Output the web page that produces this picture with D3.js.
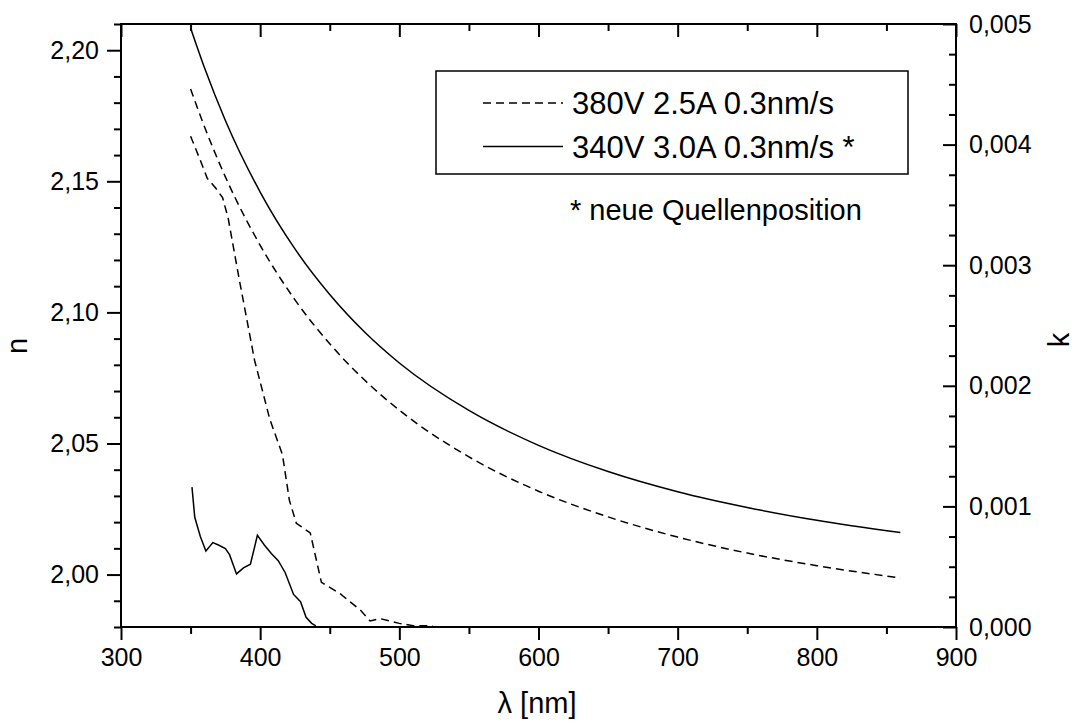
<!DOCTYPE html>
<html>
<head>
<meta charset="utf-8">
<script src="https://cdn.jsdelivr.net/npm/d3@7"></script>
<style>
  html, body { margin: 0; padding: 0; background: #fff; }
  svg { display: block; font-family: "Liberation Sans", Arial, sans-serif; }
</style>
</head>
<body>
<div id="chart"></div>
<script>
// wavelength grid of the refractive index curves (nm)
const lambdaN = [350, 360, 375, 400, 425, 450, 475, 500, 550, 600, 650, 700, 750, 800, 860]
// n, 380V 2.5A 0.3nm/s (dashed)
const nDashed = [2.1852, 2.1708, 2.1517, 2.1256, 2.1048, 2.0880, 2.0742, 2.0627, 2.0449, 2.0318, 2.0220, 2.0143, 2.0082, 2.0034, 1.9987]
// n, 340V 3.0A 0.3nm/s * (solid)
const nSolid = [2.2085, 2.1933, 2.1732, 2.1459, 2.1242, 2.1068, 2.0925, 2.0807, 2.0626, 2.0493, 2.0393, 2.0316, 2.0256, 2.0207, 2.0160]

// k, 380V 2.5A 0.3nm/s (dashed)
const lambdaKDashed = [350, 357, 362, 368, 373, 377, 385, 396, 407, 416, 421, 426, 436, 444, 457, 472, 479, 486, 500, 510, 524]
const kDashed = [0.00407, 0.00387, 0.00372, 0.00364, 0.00356, 0.00339, 0.00288, 0.00221, 0.00172, 0.00143, 0.00105, 0.00086, 0.00078, 0.00037, 0.00028, 0.00014, 0.00005, 0.00007, 0.00003, 0.00001, 0.00001]
// k, 340V 3.0A 0.3nm/s * (solid)
const lambdaKSolid = [351, 353, 357, 361, 366, 370, 375, 378, 383, 388, 393, 398, 403, 408, 413, 418, 424, 429, 433, 437, 440]
const kSolid = [0.00116, 0.00091, 0.00075, 0.00063, 0.00070, 0.00068, 0.00065, 0.00060, 0.00044, 0.00049, 0.00052, 0.00076, 0.00068, 0.00061, 0.00055, 0.00045, 0.00027, 0.00021, 0.00008, 0.00003, 0.00001]

const legendLabels = ['380V 2.5A 0.3nm/s', '340V 3.0A 0.3nm/s *']
const noteText = '* neue Quellenposition'

const width = 1074; const height = 722
const plotLeft = 121; const plotRight = 956; const plotTop = 24; const plotBottom = 627

const de = d3.formatLocale({ decimal: ',', thousands: '.', grouping: [3], currency: ['', ''] })

const x = d3.scaleLinear().domain([300, 900]).range([plotLeft, plotRight])
const yN = d3.scaleLinear().domain([1.98, 2.21]).range([plotBottom, plotTop])
const yK = d3.scaleLinear().domain([0, 0.005]).range([plotBottom, plotTop])

const svg = d3.select('#chart').append('svg')
  .attr('width', width).attr('height', height)

// helper to style axis groups
function styleAxis (g, fontSize) {
  g.select('.domain').remove()
  g.selectAll('line').attr('stroke', '#000').attr('stroke-width', 2)
  g.selectAll('text').attr('fill', '#000').style('font-size', fontSize + 'px')
    .style('font-family', '"Liberation Sans", Arial, sans-serif')
}

// bottom axis
const xMajor = d3.range(300, 901, 100)
const xMinor = d3.range(350, 900, 100)
svg.append('g').attr('transform', 'translate(0,' + plotBottom + ')')
  .call(d3.axisBottom(x).tickValues(xMajor).tickSize(13).tickPadding(8).tickFormat(d3.format('d')))
  .call(g => styleAxis(g, 25))
svg.append('g').attr('transform', 'translate(0,' + plotBottom + ')')
  .call(d3.axisBottom(x).tickValues(xMinor).tickSize(7).tickFormat(''))
  .call(g => styleAxis(g, 25))

// top axis, ticks inward
svg.append('g').attr('transform', 'translate(0,' + plotTop + ')')
  .call(d3.axisBottom(x).tickValues(xMajor).tickSize(13).tickFormat(''))
  .call(g => styleAxis(g, 25))
svg.append('g').attr('transform', 'translate(0,' + plotTop + ')')
  .call(d3.axisBottom(x).tickValues(xMinor).tickSize(7).tickFormat(''))
  .call(g => styleAxis(g, 25))

// left axis n
const nMajor = [2.00, 2.05, 2.10, 2.15, 2.20]
const nMinor = [1.98, 1.99, 2.01, 2.02, 2.03, 2.04, 2.06, 2.07, 2.08, 2.09, 2.11, 2.12, 2.13, 2.14, 2.16, 2.17, 2.18, 2.19, 2.21]
svg.append('g').attr('transform', 'translate(' + plotLeft + ',0)')
  .call(d3.axisLeft(yN).tickValues(nMajor).tickSize(14).tickPadding(8).tickFormat(de.format('.2f')))
  .call(g => styleAxis(g, 25))
svg.append('g').attr('transform', 'translate(' + plotLeft + ',0)')
  .call(d3.axisLeft(yN).tickValues(nMinor).tickSize(7).tickFormat(''))
  .call(g => styleAxis(g, 25))

// right axis k, ticks inward
const kMajor = [0, 0.001, 0.002, 0.003, 0.004, 0.005]
const kMinor = d3.range(0, 21).map(i => i * 0.00025).filter((d, i) => i % 4 !== 0)
const rightAxis = svg.append('g').attr('transform', 'translate(' + plotRight + ',0)')
  .call(d3.axisRight(yK).tickValues(kMajor).tickSize(0).tickPadding(13).tickFormat(de.format('.3f')))
  .call(g => styleAxis(g, 25))
rightAxis.selectAll('.tick').append('line').attr('x2', -13).attr('stroke', '#000').attr('stroke-width', 2)
svg.append('g').attr('transform', 'translate(' + plotRight + ',0)')
  .call(d3.axisLeft(yK).tickValues(kMinor).tickSize(7).tickFormat(''))
  .call(g => styleAxis(g, 25))

// frame
svg.append('rect')
  .attr('x', plotLeft).attr('y', plotTop)
  .attr('width', plotRight - plotLeft).attr('height', plotBottom - plotTop)
  .attr('fill', 'none').attr('stroke', '#000').attr('stroke-width', 2)

// curves
const nLine = d3.line().x(d => x(d[0])).y(d => yN(d[1])).curve(d3.curveMonotoneX)
const kLine = d3.line().x(d => x(d[0])).y(d => yK(d[1]))

const plot = svg.append('g')
plot.append('path').datum(d3.zip(lambdaN, nDashed))
  .attr('d', nLine).attr('fill', 'none').attr('stroke', '#000').attr('stroke-width', 1.5).attr('stroke-dasharray', '8,5')
plot.append('path').datum(d3.zip(lambdaN, nSolid))
  .attr('d', nLine).attr('fill', 'none').attr('stroke', '#000').attr('stroke-width', 1.5)
plot.append('path').datum(d3.zip(lambdaKDashed, kDashed))
  .attr('d', kLine).attr('fill', 'none').attr('stroke', '#000').attr('stroke-width', 1.5).attr('stroke-dasharray', '8,5')
plot.append('path').datum(d3.zip(lambdaKSolid, kSolid))
  .attr('d', kLine).attr('fill', 'none').attr('stroke', '#000').attr('stroke-width', 1.5)

// axis titles
svg.append('text').attr('x', 537).attr('y', 713).attr('text-anchor', 'middle')
  .style('font-size', '29px').text('λ [nm]')
svg.append('text').attr('transform', 'translate(27,346) rotate(-90)').attr('text-anchor', 'middle')
  .style('font-size', '29px').text('n')
svg.append('text').attr('transform', 'translate(1069,340) rotate(-90)').attr('text-anchor', 'middle')
  .style('font-size', '29px').text('k')

// legend
const legend = svg.append('g')
legend.append('rect').attr('x', 436).attr('y', 71).attr('width', 472).attr('height', 103)
  .attr('fill', '#fff').attr('stroke', '#000').attr('stroke-width', 1.5)
const dashes = ['8,5', null]
legendLabels.forEach((label, i) => {
  const cy = 103 + i * 43.5
  legend.append('line').attr('x1', 483).attr('x2', 563).attr('y1', cy).attr('y2', cy)
    .attr('stroke', '#000').attr('stroke-width', 1.5).attr('stroke-dasharray', dashes[i])
  legend.append('text').attr('x', 572).attr('y', cy + 11)
    .style('font-size', '31px').text(label)
})
svg.append('text').attr('x', 570).attr('y', 220).style('font-size', '29px').text(noteText)
</script>
</body>
</html>
